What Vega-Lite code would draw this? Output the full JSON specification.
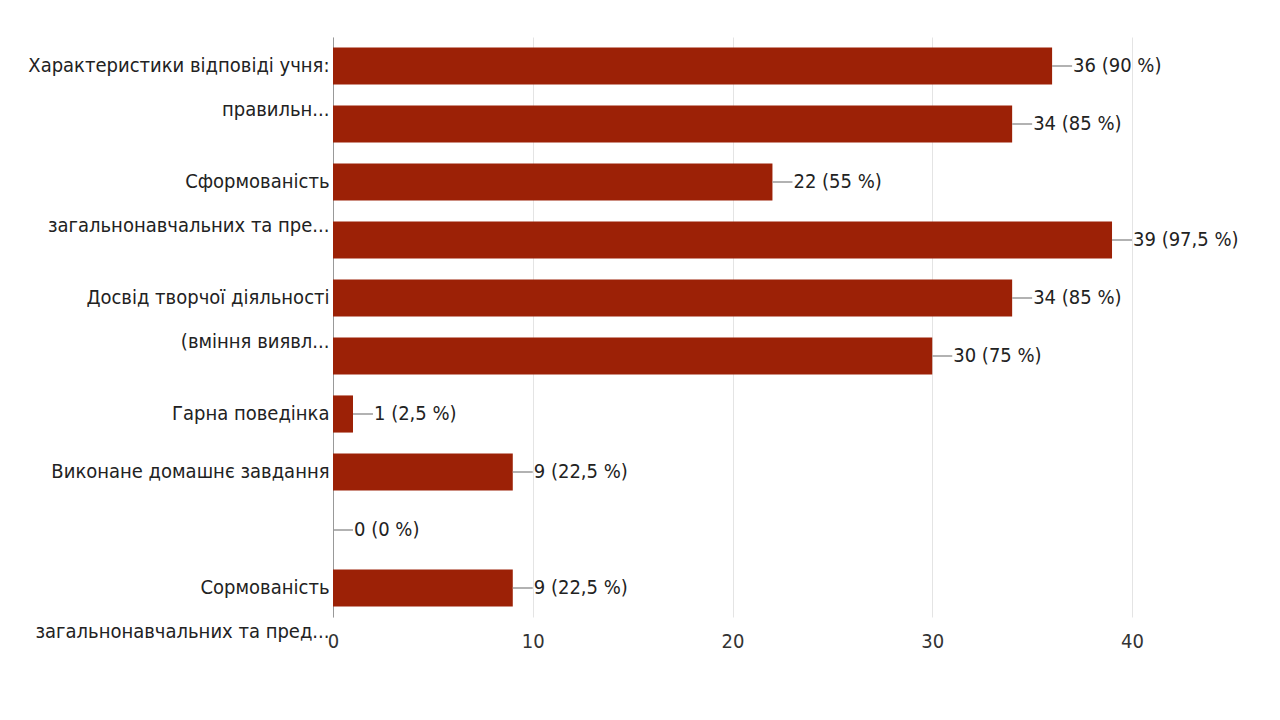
{
"$schema":"https://vega.github.io/schema/vega-lite/v6.json",
"width":799,"height":580,
"autosize":{"type":"none"},
"padding":{"left":333,"top":37,"right":148,"bottom":103},
"background":"white",
"config":{"view":{"stroke":null},"font":"DejaVu Sans Condensed"},
"data":{"values":[
{"cat":"01|Характеристики відповіді учня:|правильн...","v":36,"lab":"36 (90 %)"},
{"cat":"02|","v":34,"lab":"34 (85 %)"},
{"cat":"03|Сформованість|загальнонавчальних та пре...","v":22,"lab":"22 (55 %)"},
{"cat":"04|","v":39,"lab":"39 (97,5 %)"},
{"cat":"05|Досвід творчої діяльності|(вміння виявл...","v":34,"lab":"34 (85 %)"},
{"cat":"06|","v":30,"lab":"30 (75 %)"},
{"cat":"07|Гарна поведінка","v":1,"lab":"1 (2,5 %)"},
{"cat":"08|Виконане домашнє завдання","v":9,"lab":"9 (22,5 %)"},
{"cat":"09|","v":0,"lab":"0 (0 %)"},
{"cat":"10|Сормованість|загальнонавчальних та пред...","v":9,"lab":"9 (22,5 %)"}
]},
"encoding":{
"y":{"field":"cat","type":"nominal","sort":null,"scale":{"paddingInner":0.36,"paddingOuter":0.18},
"axis":{"title":null,"labelExpr":"slice(split(datum.value,'|'),1)","labelFontSize":20,"labelColor":"#222","labelLineHeight":44,"labelBaseline":"middle","ticks":false,"domainColor":"#999","labelPadding":4,"labelLimit":400}}
},
"layer":[
{"mark":{"type":"bar","color":"#9c2106"},
"encoding":{"x":{"field":"v","type":"quantitative","scale":{"domain":[0,40]},
"axis":{"title":null,"values":[0,10,20,30,40],"labelFontSize":20,"labelColor":"#333","gridColor":"#e4e4e4","domain":false,"ticks":false,"labelPadding":14,"labelFlush":false}}}},
{"mark":{"type":"rule","color":"#999","x2Offset":20,"strokeWidth":1.5},
"encoding":{"x":{"field":"v","type":"quantitative"},"x2":{"field":"v"}}},
{"mark":{"type":"text","align":"left","dx":21,"fontSize":20,"color":"#222"},
"encoding":{"x":{"field":"v","type":"quantitative"},"text":{"field":"lab"}}}
]
}
